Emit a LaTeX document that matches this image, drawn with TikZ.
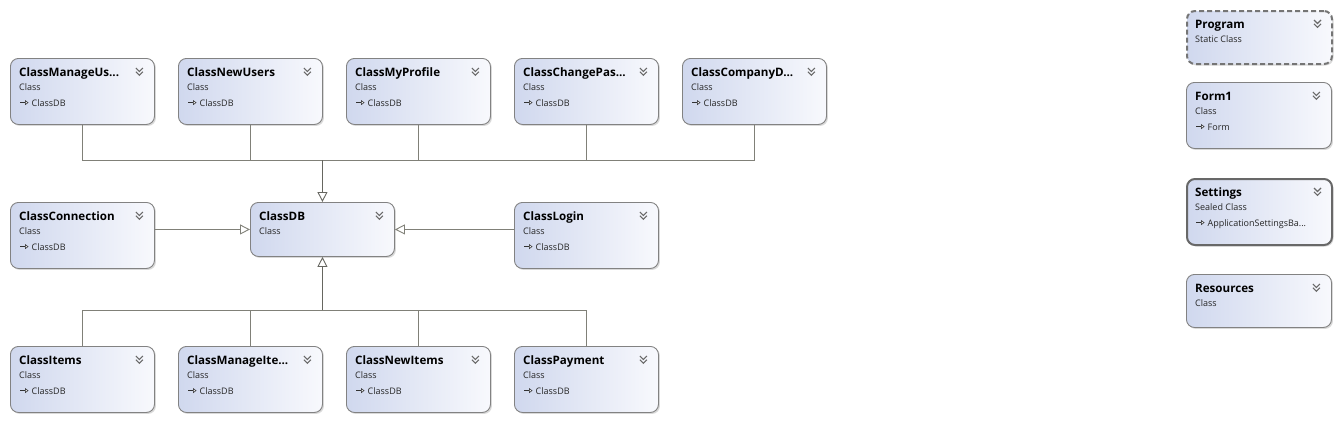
\documentclass[tikz,border=0pt]{standalone}
\usepackage{fontspec}
\setmainfont{Open Sans}
\usetikzlibrary{arrows.meta,shadows}
\definecolor{boxL}{RGB}{208,216,238}
\definecolor{boxR}{RGB}{248,249,253}
\definecolor{edge}{RGB}{130,130,130}
\definecolor{lineC}{RGB}{128,128,120}
\definecolor{chevC}{RGB}{105,105,105}
\tikzset{
  cls/.style={draw=edge, line width=0.9pt, rounded corners=8pt, left color=boxL, right color=boxR,
    inner sep=0pt, anchor=north west,
    drop shadow={shadow xshift=1.5pt, shadow yshift=-1.5pt, opacity=0.3, fill=gray}},
  thickbox/.style={draw=edge!80!black, line width=2pt},
  dashbox/.style={draw=edge!90!black, line width=2pt, dash pattern=on 5pt off 3pt},
  ttl/.style={anchor=base west, inner sep=0pt, font=\bfseries\fontsize{11.6}{13}\selectfont, text=black},
  sub/.style={anchor=base west, inner sep=0pt, font=\fontsize{9}{10}\selectfont, text=black!85},
  chev/.style={draw=chevC, line width=1.1pt},
  conn/.style={draw=lineC, line width=0.9pt},
  trunk/.style={draw=lineC!80!black, line width=1.6pt},
  inh/.style={-{Triangle[length=10pt,width=10pt,fill=white,line width=0.9pt]}},
  minih/.style={draw=black!80, line width=0.7pt, -{Triangle[length=3.5pt,width=5pt,fill=white,line width=0.6pt]}},
}
% name, x, y, w, h, title, sub, base, style
\newcommand{\cbox}[9]{%
  \node[cls,#9,minimum width=#4pt,minimum height=#5pt] (#1) at (#2,#3) {};
  \node[ttl] (#1-t) at ([xshift=9pt,yshift=-18.7pt]#1.north west) {#6};
  \node[sub] (#1-s) at ([xshift=9pt,yshift=-32.7pt]#1.north west) {#7};
  \if\relax\detokenize{#8}\relax\else
  \node[sub] (#1-b) at ([xshift=21.5pt,yshift=-48pt]#1.north west) {#8};
  \draw[minih] ([xshift=10pt,yshift=-44.6pt]#1.north west) -- ++(8.5pt,0pt);
  \fi
  \draw[chev] ([xshift=-19pt,yshift=-10pt]#1.north east) -- ++(3.5pt,-3.5pt) -- ++(3.5pt,3.5pt);
  \draw[chev] ([xshift=-19pt,yshift=-13.8pt]#1.north east) -- ++(3.5pt,-3.5pt) -- ++(3.5pt,3.5pt);
}
\begin{document}
\begin{tikzpicture}[x=1pt,y=-1pt]
\useasboundingbox (0,0) rectangle (1339,421);
% top row
\cbox{mu}{10}{58}{144}{66}{ClassManageUs...}{Class}{ClassDB}{}
\cbox{nu}{178}{58}{144}{66}{ClassNewUsers}{Class}{ClassDB}{}
\cbox{mp}{346}{58}{144}{66}{ClassMyProfile}{Class}{ClassDB}{}
\cbox{cp}{514}{58}{144}{66}{ClassChangePas...}{Class}{ClassDB}{}
\cbox{cd}{682}{58}{144}{66}{ClassCompanyD...}{Class}{ClassDB}{}
% middle row
\cbox{cc}{10}{202}{144}{66}{ClassConnection}{Class}{ClassDB}{}
\cbox{db}{250}{202}{144}{54}{ClassDB}{Class}{}{}
\cbox{cl}{514}{202}{144}{66}{ClassLogin}{Class}{ClassDB}{}
% bottom row
\cbox{ci}{10}{346}{144}{66}{ClassItems}{Class}{ClassDB}{}
\cbox{mi}{178}{346}{144}{66}{ClassManageIte...}{Class}{ClassDB}{}
\cbox{ni}{346}{346}{144}{66}{ClassNewItems}{Class}{ClassDB}{}
\cbox{cy}{514}{346}{144}{66}{ClassPayment}{Class}{ClassDB}{}
% right column
\cbox{pg}{1186}{10}{145}{53}{Program}{Static Class}{}{dashbox}
\cbox{f1}{1186}{82}{145}{66}{Form1}{Class}{Form}{}
\cbox{st}{1186}{178}{145}{66}{Settings}{Sealed Class}{ApplicationSettingsBa...}{thickbox}
\cbox{rs}{1186}{274}{145}{53}{Resources}{Class}{}{}
% connectors
\coordinate (jt) at (db.north |- 0,160);
\coordinate (jb) at (db.south |- 0,310);
\foreach \n in {mu,nu,mp,cp,cd} \draw[conn] (\n.south) |- (jt);
\foreach \n in {ci,mi,ni,cy} \draw[conn] (\n.north) |- (jb);
\draw[trunk,inh] (jt) -- (db.north);
\draw[trunk,inh] (jb) -- (db.south);
\draw[conn,inh] (cc.east |- db.west) -- (db.west);
\draw[conn,inh] (cl.west |- db.east) -- (db.east);
\end{tikzpicture}
\end{document}
